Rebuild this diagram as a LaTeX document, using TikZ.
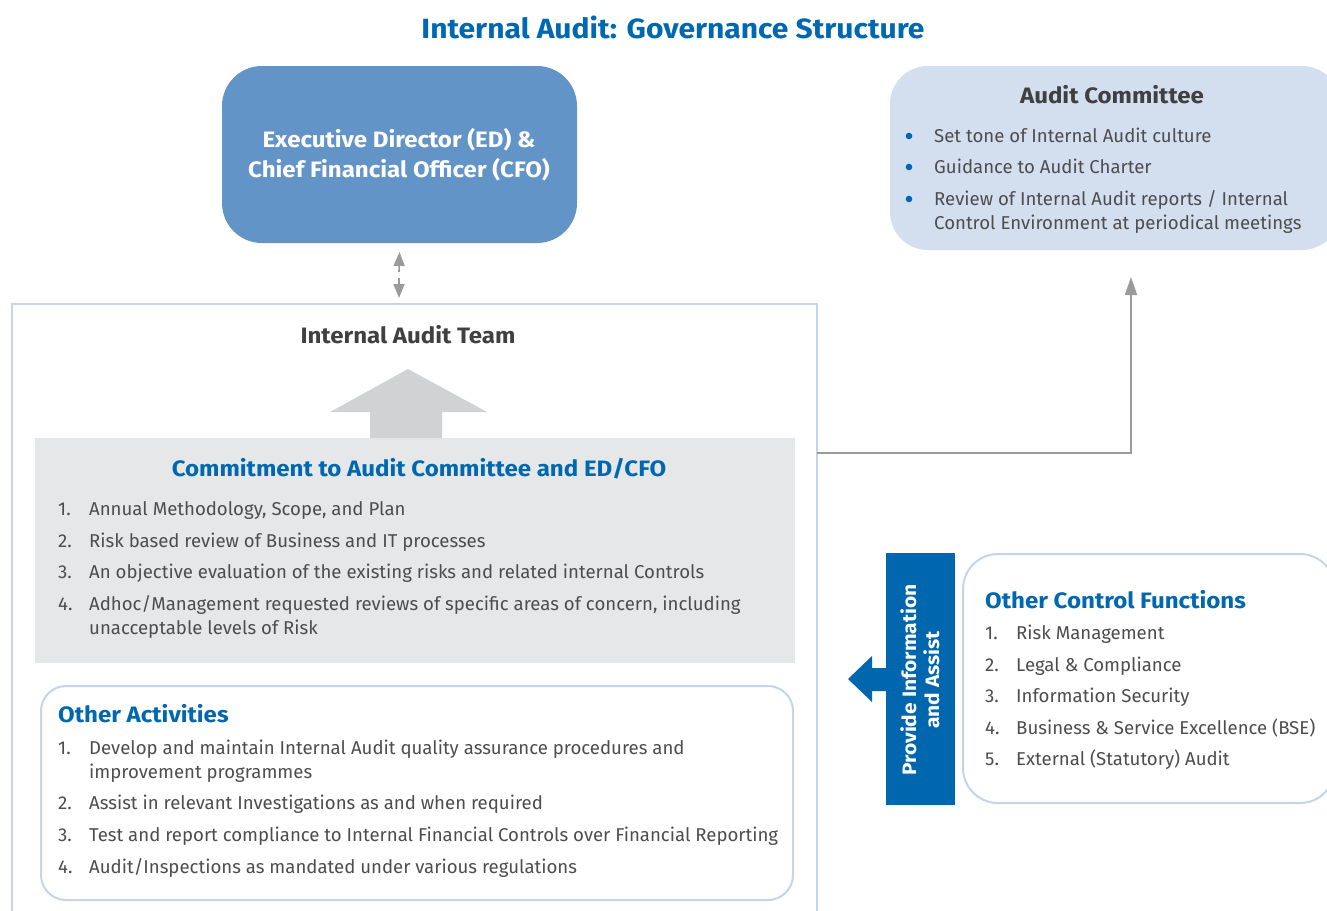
\documentclass[tikz,border=0pt]{standalone}
\usepackage{fontspec}
\setmainfont{Fira Sans}[BoldFeatures={FakeStretch=1.08}]
\usetikzlibrary{arrows.meta}
\definecolor{iablue}{HTML}{0068B0}
\definecolor{edfill}{HTML}{6294C8}
\definecolor{acfill}{HTML}{D3DEEF}
\definecolor{frameblue}{HTML}{C5D4EA}
\definecolor{commitfill}{HTML}{E6E7E8}
\definecolor{bigarrow}{HTML}{D1D2D4}
\definecolor{textgray}{HTML}{4D4D4F}
\definecolor{headgray}{HTML}{404041}
\definecolor{connector}{HTML}{9B9B9E}
\definecolor{piafill}{HTML}{0066AD}
\newcommand\numbox[1]{\makebox[31pt][l]{#1}}
\begin{document}
\begin{tikzpicture}[x=1pt,y=-1pt,
  boxnode/.style={inner sep=0pt, outer sep=0pt, anchor=north west},
  txt/.style={anchor=base west, inner sep=0pt, text=textgray, font=\fontsize{18.6}{24}\selectfont},
  headc/.style={anchor=base, inner sep=0pt, font=\fontsize{22.3}{26}\selectfont\bfseries},
  headl/.style={anchor=base west, inner sep=0pt, font=\fontsize{22.3}{26}\selectfont\bfseries, text=iablue},
  grayconn/.style={draw=connector, line width=1.8pt, -{Triangle[length=18pt,width=12pt]}},
  smallarrow/.style={draw=connector, line width=1.6pt, -{Triangle[length=14pt,width=11pt]}},
  bulletdot/.style={fill=iablue}
]
\useasboundingbox (0,0) rectangle (1327,910);
\clip (0,0) rectangle (1327,910);

% title
\node[anchor=base, inner sep=0pt, text=iablue, font=\fontsize{27.8}{32}\selectfont\bfseries] (title) at (673,38) {Internal Audit: Governance Structure};

% ED box
\node[boxnode, fill=edfill, rounded corners=40pt, minimum width=355pt, minimum height=177pt] (ed) at (222,66) {};
\node[headc, text=white] (edl1) at (399,147) {Executive Director (ED) \&};
\node[headc, text=white] (edl2) at (399,177) {Chief Financial Officer (CFO)};

% Audit committee box
\node[boxnode, fill=acfill, rounded corners=38pt, minimum width=450pt, minimum height=184pt] (ac) at (890,66) {};
\node[headc, text=headgray] (achead) at (1112,103) {Audit Committee};
\fill[bulletdot] (909,136) circle (3.3pt);
\fill[bulletdot] (909,167) circle (3.3pt);
\fill[bulletdot] (909,199) circle (3.3pt);
\node[txt] (acb1) at (934,142) {Set tone of Internal Audit culture};
\node[txt] (acb2) at (934,173) {Guidance to Audit Charter};
\node[txt] (acb3) at (934,205) {Review of Internal Audit reports / Internal};
\node[txt] (acb3b) at (934,229) {Control Environment at periodical meetings};

% frame of internal audit team
\node[boxnode, draw=frameblue, line width=2pt, minimum width=805pt, minimum height=640pt] (frame) at (12,304) {};
\node[headc, text=headgray] (iat) at (408,343) {Internal Audit Team};

% double arrow ED <-> team
\coordinate (mid) at (399,275);
\draw[smallarrow] ([yshift=3pt]mid) -- ([yshift=-9pt]ed.south);
\draw[smallarrow] ([yshift=-3pt]mid) -- (399,298);

% commitment box
\node[boxnode, fill=commitfill, minimum width=760pt, minimum height=225pt] (commit) at (35,438) {};
\fill[bigarrow] (370,438) -- (370,412) -- (330,412) -- (408,369) -- (487,412) -- (442,412) -- (442,438) -- cycle;
\node[headc, text=iablue] (cmhead) at (419,476) {Commitment to Audit Committee and ED/CFO};
\node[txt] (cm1) at (58,515) {\numbox{1.}Annual Methodology, Scope, and Plan};
\node[txt] (cm2) at (58,547) {\numbox{2.}Risk based review of Business and IT processes};
\node[txt] (cm3) at (58,578) {\numbox{3.}An objective evaluation of the existing risks and related internal Controls};
\node[txt] (cm4) at (58,610) {\numbox{4.}Adhoc/Management requested reviews of specific areas of concern, including};
\node[txt] (cm4b) at (89,634) {unacceptable levels of Risk};

% other activities
\node[boxnode, fill=white, draw=frameblue, line width=2pt, rounded corners=25pt, minimum width=752pt, minimum height=214pt] (oa) at (41,686) {};
\node[headl] (oahead) at (58,722) {Other Activities};
\node[txt] (oa1) at (58,754) {\numbox{1.}Develop and maintain Internal Audit quality assurance procedures and};
\node[txt] (oa1b) at (89,778) {improvement programmes};
\node[txt] (oa2) at (58,809) {\numbox{2.}Assist in relevant Investigations as and when required};
\node[txt] (oa3) at (58,841) {\numbox{3.}Test and report compliance to Internal Financial Controls over Financial Reporting};
\node[txt] (oa4) at (58,873) {\numbox{4.}Audit/Inspections as mandated under various regulations};

% connector team -> audit committee
\coordinate (teamout) at (817,453);
\coordinate (acin) at (1131,277);
\draw[grayconn] (teamout) -| (acin);

% provide information box
\node[boxnode, fill=piafill, minimum width=69pt, minimum height=252pt] (pia) at (886,553) {};
\node[rotate=90, inner sep=0pt, text=white, align=center, font=\fontsize{19.4}{23}\selectfont\bfseries] (pialabel) at (920,680) {Provide Information\\and Assist};
\fill[piafill] (pia.west |- 0,668) -- (872,668) -- (872,656) -- (848,679) -- (872,702) -- (872,691) -- (pia.west |- 0,691) -- cycle;

% other control functions
\node[boxnode, fill=white, draw=frameblue, line width=2pt, rounded corners=35pt, minimum width=372pt, minimum height=249pt] (ocf) at (963,554) {};
\node[headl] (ocfhead) at (985,608) {Other Control Functions};
\node[txt] (ocf1) at (985,639) {\numbox{1.}Risk Management};
\node[txt] (ocf2) at (985,671) {\numbox{2.}Legal \& Compliance};
\node[txt] (ocf3) at (985,702) {\numbox{3.}Information Security};
\node[txt] (ocf4) at (985,734) {\numbox{4.}Business \& Service Excellence (BSE)};
\node[txt] (ocf5) at (985,765) {\numbox{5.}External (Statutory) Audit};
\end{tikzpicture}
\end{document}
